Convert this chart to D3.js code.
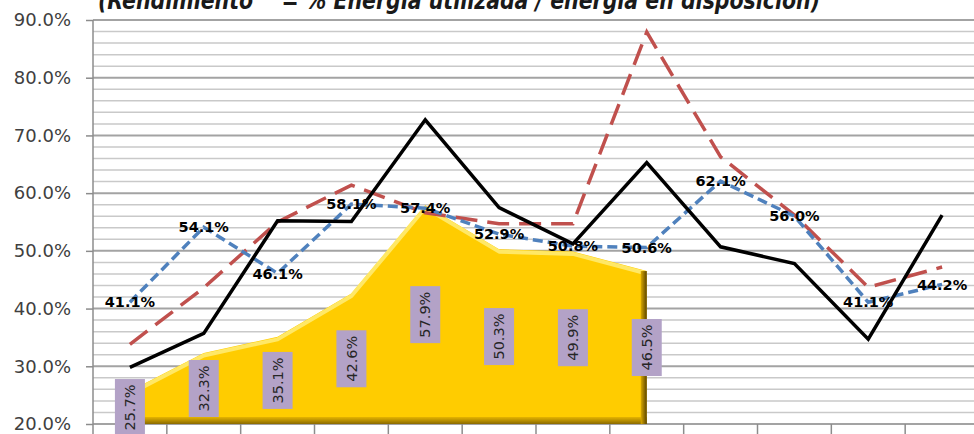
<!DOCTYPE html>
<html>
<head>
<meta charset="utf-8">
<script src="https://cdn.jsdelivr.net/npm/d3@7"></script>
<style>
  body { margin: 0; background: #fff; }
  svg { display: block; }
</style>
</head>
<body>
<div id="chart"></div>
<script>
// chart data
const categories = ['Ene', 'Feb', 'Mar', 'Abr', 'May', 'Jun', 'Jul', 'Ago', 'Sep', 'Oct', 'Nov', 'Dic'];
const areaValues = [25.7, 32.3, 35.1, 42.6, 57.9, 50.3, 49.9, 46.5];
const blackValues = [29.8, 35.7, 55.2, 55.1, 72.7, 57.5, 51.2, 65.3, 50.7, 47.8, 34.7, 56.2];
const redValues = [33.8, 43.6, 55.0, 61.4, 56.6, 54.7, 54.7, 87.9, 66.3, 56.2, 43.7, 47.2];
const blueValues = [41.1, 54.1, 46.1, 58.1, 57.4, 52.9, 50.8, 50.6, 62.1, 56.0, 41.1, 44.2];
const yTicks = [20, 30, 40, 50, 60, 70, 80, 90];
const title = '(Rendimiento    = % Energía utilizada / energía en disposición)';

const width = 974;
const height = 434;
const fmt = (v) => `${v.toFixed(1)}%`;

const svg = d3.select('#chart').append('svg')
  .attr('width', width)
  .attr('height', height);

// scales
const x = d3.scaleBand().domain(categories).range([93, 979]);
const cx = (i) => x(categories[i]) + x.bandwidth() / 2;
const y = d3.scaleLinear().domain([20, 90]).range([424, 20]);

// gridlines: minor every 2%, major every 10%
const minor = d3.range(22, 90, 2).filter((v) => v % 10 !== 0);
svg.append('g').selectAll('line')
  .data(minor)
  .join('line')
  .attr('x1', 93).attr('x2', width)
  .attr('y1', (d) => y(d)).attr('y2', (d) => y(d))
  .attr('stroke', '#c9c9c9')
  .attr('stroke-width', 1.5);

svg.append('g').selectAll('line')
  .data(yTicks)
  .join('line')
  .attr('x1', 93).attr('x2', width)
  .attr('y1', (d) => y(d)).attr('y2', (d) => y(d))
  .attr('stroke', '#a3a3a3')
  .attr('stroke-width', 2);

// y axis
const yAxis = d3.axisLeft(y)
  .tickValues(yTicks)
  .tickSize(7)
  .tickPadding(15)
  .tickFormat(fmt);

const yg = svg.append('g')
  .attr('transform', 'translate(93,0)')
  .call(yAxis);
yg.select('.domain').attr('stroke', '#8c8c8c').attr('stroke-width', 1.5)
  .attr('d', `M0,${y(90)}V${height}`);
yg.selectAll('.tick line').attr('stroke', '#8c8c8c').attr('stroke-width', 1.5);
yg.selectAll('.tick text')
  .attr('fill', '#404040')
  .style('font-family', 'DejaVu Sans')
  .style('font-size', '18px');

// x axis tick marks (category labels lie below the frame)
svg.append('g').selectAll('line')
  .data(categories.slice(1))
  .join('line')
  .attr('x1', (d) => x(d)).attr('x2', (d) => x(d))
  .attr('y1', y(20)).attr('y2', y(20) + 12)
  .attr('stroke', '#8c8c8c')
  .attr('stroke-width', 1.5);

// gradients for the bevelled area
const defs = svg.append('defs');
const gBottom = defs.append('linearGradient').attr('id', 'gBottom')
  .attr('x1', 0).attr('y1', 0).attr('x2', 0).attr('y2', 1);
gBottom.append('stop').attr('offset', '0%').attr('stop-color', '#e6b400');
gBottom.append('stop').attr('offset', '100%').attr('stop-color', '#8a6a00');
const gRight = defs.append('linearGradient').attr('id', 'gRight')
  .attr('x1', 0).attr('y1', 0).attr('x2', 1).attr('y2', 0);
gRight.append('stop').attr('offset', '0%').attr('stop-color', '#d9a800');
gRight.append('stop').attr('offset', '100%').attr('stop-color', '#5c4500');

// area series
const area = d3.area()
  .x((d, i) => cx(i))
  .y0(y(20))
  .y1((d) => y(d));

const line = d3.line()
  .x((d, i) => cx(i))
  .y((d) => y(d));

const ag = svg.append('g');
ag.append('path')
  .datum(areaValues)
  .attr('d', area)
  .attr('fill', '#ffcc00');

ag.append('path')
  .datum(areaValues)
  .attr('d', line)
  .attr('transform', 'translate(0,2.5)')
  .attr('fill', 'none')
  .attr('stroke', '#ffe866')
  .attr('stroke-width', 4)
  .attr('stroke-linejoin', 'round');

const last = areaValues.length - 1;
ag.append('rect')
  .attr('x', cx(0))
  .attr('y', y(20) - 7)
  .attr('width', cx(last) - cx(0))
  .attr('height', 7)
  .attr('fill', 'url(#gBottom)');
ag.append('rect')
  .attr('x', cx(last) - 6)
  .attr('y', y(areaValues[last]))
  .attr('width', 6)
  .attr('height', y(20) - y(areaValues[last]))
  .attr('fill', 'url(#gRight)');

// line series
svg.append('path')
  .datum(redValues)
  .attr('d', line)
  .attr('fill', 'none')
  .attr('stroke', '#c0504d')
  .attr('stroke-width', 3.5)
  .attr('stroke-dasharray', '22 10');

svg.append('path')
  .datum(blueValues)
  .attr('d', line)
  .attr('fill', 'none')
  .attr('stroke', '#4f81bd')
  .attr('stroke-width', 3.5)
  .attr('stroke-dasharray', '10 5');

svg.append('path')
  .datum(blackValues)
  .attr('d', line)
  .attr('fill', 'none')
  .attr('stroke', '#000')
  .attr('stroke-width', 3.5)
  .attr('stroke-linejoin', 'miter');

// area labels: rotated, in lavender boxes, centred halfway down
const alab = svg.append('g').selectAll('g')
  .data(areaValues)
  .join('g')
  .attr('transform', (d, i) => `translate(${cx(i)},${(y(d) + y(20)) / 2}) rotate(-90)`);

alab.append('rect')
  .attr('x', -28.5).attr('y', -15)
  .attr('width', 57).attr('height', 30)
  .attr('fill', '#b3a2c7');

alab.append('text')
  .attr('text-anchor', 'middle')
  .attr('dy', '0.36em')
  .attr('fill', '#262626')
  .style('font-family', 'DejaVu Sans')
  .style('font-size', '14.5px')
  .text(fmt);

// blue line labels, centred on points
svg.append('g').selectAll('text')
  .data(blueValues)
  .join('text')
  .attr('x', (d, i) => cx(i))
  .attr('y', (d) => y(d))
  .attr('dy', '0.36em')
  .attr('text-anchor', 'middle')
  .attr('fill', '#000')
  .style('font-family', 'DejaVu Sans')
  .style('font-weight', 'bold')
  .style('font-size', '14.5px')
  .text(fmt);

// title, mostly cut by the top edge
svg.append('text')
  .attr('x', 98).attr('y', 9)
  .attr('textLength', 722)
  .attr('lengthAdjust', 'spacingAndGlyphs')
  .attr('fill', '#1a1a1a')
  .style('font-family', 'DejaVu Sans')
  .style('font-weight', 'bold')
  .style('font-style', 'italic')
  .style('font-size', '24px')
  .style('white-space', 'pre')
  .text(title);
</script>
</body>
</html>
